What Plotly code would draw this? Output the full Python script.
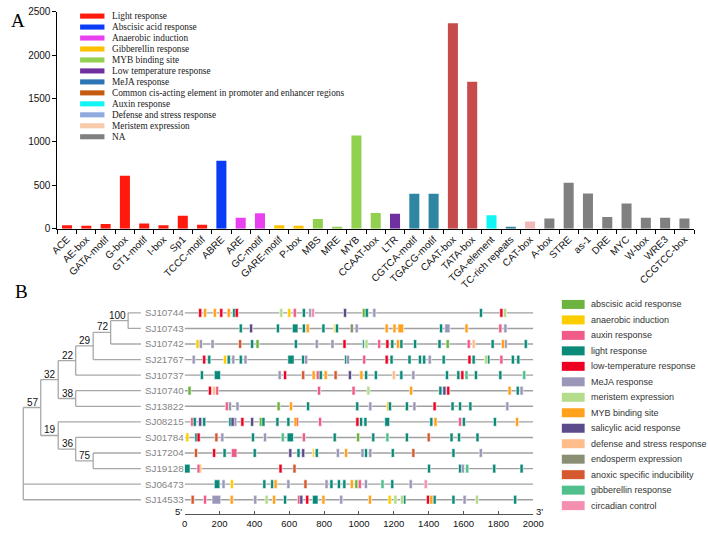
import plotly.graph_objects as go

W, H = 708, 535
def px(x): return x / W
def py(y): return 1 - y / H

# ---------------- Panel A data ----------------
motifs = ["ACE", "AE-box", "GATA-motif", "G-box", "GT1-motif", "I-box", "Sp1", "TCCC-motif",
          "ABRE", "ARE", "GC-motif", "GARE-motif", "P-box", "MBS", "MRE", "MYB", "CCAAT-box",
          "LTR", "CGTCA-motif", "TGACG-motif", "CAAT-box", "TATA-box", "TGA-element",
          "TC-rich repeats", "CAT-box", "A-box", "STRE", "as-1", "DRE", "MYC", "W-box", "WRE3",
          "CCGTCC-box"]
counts = [40, 32, 52, 610, 60, 38, 148, 46, 782, 124, 177, 38, 33, 110, 15, 1072, 180,
          170, 402, 402, 2366, 1693, 154, 22, 82, 116, 530, 406, 135, 289, 124, 124, 116]
motif_group = ["Light"] * 8 + ["ABA"] + ["ANA"] * 2 + ["GA"] * 2 + ["MYB"] * 4 + ["LTR"] + \
              ["MEJA"] * 2 + ["COM"] * 2 + ["AUX"] + ["DEF"] + ["MER"] + ["NA"] * 8
groupA_keys = ["Light", "ABA", "ANA", "GA", "MYB", "LTR", "MEJA", "COM", "AUX", "DEF", "MER", "NA"]
groupA_names = ["Light response", "Abscisic acid response", "Anaerobic induction",
                "Gibberellin response", "MYB binding site", "Low temperature response",
                "MeJA response", "Common cis-acting element in promoter and enhancer regions",
                "Auxin response", "Defense and stress response", "Meristem expression", "NA"]
groupA_bar_colors = {"Light": "#ff1a0d", "ABA": "#0a3cf5", "ANA": "#e940f0", "GA": "#ffc000",
                     "MYB": "#92d050", "LTR": "#7030a0", "MEJA": "#2e86a3", "COM": "#c84b4b",
                     "AUX": "#12f5f5", "DEF": "#2e86a3", "MER": "#f2b9b9", "NA": "#808080"}
groupA_legend_colors = ["#ff1a0d", "#0a3cf5", "#e940f0", "#ffc000", "#92d050", "#7030a0",
                        "#2e75b6", "#c55a11", "#12f5f5", "#8faadc", "#f8cbad", "#808080"]

# ---------------- Panel B data ----------------
seqs = ["SJ10744", "SJ10743", "SJ10742", "SJ21767", "SJ10737", "SJ10740", "SJ13822",
        "SJ08215", "SJ01784", "SJ17204", "SJ19128", "SJ06473", "SJ14533"]
# tree: (bootstrap, [children]); leaves are sequence names
tree = ("", [("57", [("32", [("22", [("29", [("72", [("100", ["SJ10744", "SJ10743"]), "SJ10742"]),
                                              "SJ21767"]), "SJ10737"]),
                             ("38", ["SJ10740", "SJ13822"])]),
                     ("19", ["SJ08215", ("36", ["SJ01784", ("75", ["SJ17204", "SJ19128"])])])]),
             "SJ06473", "SJ14533"])

b_keys = ["ABA", "ANA", "AUX", "LIG", "LOW", "MEJ", "MER", "MYB", "SAL", "DEF", "END", "ANO", "GA", "CIR"]
b_names = ["abscisic acid response", "anaerobic induction", "auxin response", "light response",
           "low-temperature response", "MeJA response", "meristem expression", "MYB binding site",
           "salicylic acid response", "defense and stress response", "endosperm expression",
           "anoxic specific inducibility", "gibberellin response", "circadian control"]
b_colors = ["#6db33f", "#ffcc00", "#f15b87", "#0a8a78", "#ee0022", "#9b97b8", "#b3dd8b",
            "#ffa11a", "#5b4b8a", "#ffbd8c", "#8a8f73", "#d6582e", "#4fbf8b", "#f58fb0"]

# elements: (centre position bp, category[, length bp])
elements = {
    "SJ10744": [(89, "LOW"), (117, "MYB"), (173, "MYB"), (210, "LOW"), (253, "MYB"), (284, "LIG"),
                (299, "LOW"), (554, "MER"), (600, "ANA"), (632, "AUX"), (684, "LIG"), (721, "MEJ"),
                (736, "CIR"), (920, "SAL"), (1028, "ABA"), (1045, "LIG"), (1088, "MEJ"),
                (1700, "LIG"), (1817, "LOW"), (1838, "MER")],
    "SJ10743": [(322, "LIG"), (381, "SAL"), (535, "LIG"), (634, "LIG", 32), (684, "LIG"),
                (706, "MYB"), (796, "LIG"), (858, "ANA", 8), (874, "LIG"), (959, "END"),
                (987, "MEJ"), (1159, "MYB"), (1204, "MYB"), (1240, "MYB", 32), (1471, "LIG"),
                (1507, "MEJ", 30), (1617, "MYB"), (1811, "AUX"), (1840, "MEJ")],
    "SJ10742": [(74, "ANA"), (93, "MEJ"), (160, "MEJ"), (318, "ANO"), (387, "LIG"), (418, "ABA"),
                (638, "LIG"), (758, "MEJ"), (848, "MEJ"), (917, "LOW"), (1025, "LIG", 10),
                (1043, "MER"), (1116, "AUX"), (1163, "LOW"), (1191, "LIG"), (1224, "MYB"),
                (1243, "LIG"), (1322, "LIG"), (1462, "LIG"), (1509, "ABA"), (1630, "AUX"),
                (1658, "DEF"), (1767, "LIG"), (1826, "MYB"), (1841, "MEJ"), (1957, "LIG")],
    "SJ21767": [(52, "MEJ"), (112, "LOW"), (141, "LIG"), (232, "ANA"), (253, "LIG"), (279, "MEJ"),
                (322, "LIG"), (349, "MEJ"), (610, "LIG", 36), (680, "LIG"), (697, "MEJ"),
                (926, "LIG"), (937, "MEJ"), (1030, "AUX"), (1159, "LOW"), (1187, "LIG"),
                (1290, "LIG"), (1350, "LIG"), (1374, "LIG"), (1406, "MEJ"), (1486, "LIG"),
                (1634, "LOW"), (1658, "LIG"), (1729, "MER"), (1742, "LIG"), (1817, "AUX"),
                (1883, "LIG"), (1914, "LIG")],
    "SJ10737": [(99, "LIG"), (188, "LIG", 36), (545, "MEJ"), (576, "LOW"), (680, "ANO"),
                (740, "MYB"), (764, "AUX"), (781, "LIG"), (809, "MYB"), (866, "ANO"),
                (948, "SAL"), (1014, "MYB"), (1041, "LIG"), (1097, "LIG"), (1200, "DEF"),
                (1243, "LIG"), (1312, "MEJ"), (1505, "LIG"), (1570, "LIG"), (1593, "LOW"),
                (1617, "GA"), (1671, "LIG"), (1811, "LIG"), (1948, "GA")],
    "SJ10740": [(28, "ABA"), (145, "LOW"), (169, "DEF"), (186, "AUX"), (771, "AUX"), (969, "AUX"),
                (1054, "MER"), (1299, "MYB"), (1467, "LIG"), (1490, "SAL"), (1512, "LOW"),
                (1864, "MYB"), (1911, "LIG"), (1933, "MEJ")],
    "SJ13822": [(242, "AUX"), (260, "MEJ"), (303, "MEJ"), (539, "ABA"), (610, "MYB"), (708, "LIG"),
                (990, "LIG"), (1065, "MEJ"), (1168, "ANA"), (1178, "LIG"), (1275, "LIG"),
                (1318, "MEJ"), (1434, "LOW"), (1537, "LIG"), (1580, "LIG"), (1639, "LIG"),
                (1851, "MEJ")],
    "SJ08215": [(43, "AUX"), (58, "LIG"), (89, "SAL"), (112, "LIG"), (262, "LIG"), (275, "SAL"),
                (290, "MEJ"), (331, "LOW"), (387, "SAL"), (437, "ABA"), (452, "LIG"), (532, "LIG"),
                (595, "LIG"), (636, "MYB"), (643, "LOW"), (777, "AUX"), (991, "LOW"), (1012, "LIG"),
                (1037, "LIG"), (1162, "LIG", 28), (1415, "LIG"), (1439, "MYB"), (1580, "AUX"),
                (1602, "LIG"), (1780, "LIG"), (1907, "MYB")],
    "SJ01784": [(15, "ANA"), (67, "LIG"), (80, "LOW"), (182, "ANO"), (216, "MEJ"), (392, "LIG"),
                (461, "MEJ"), (563, "GA"), (606, "LIG", 36), (684, "AUX"), (861, "LIG"),
                (995, "ABA"), (1082, "LIG"), (1163, "GA"), (1275, "LIG"), (1400, "ANO"),
                (1531, "LIG"), (1574, "LIG"), (1680, "LIG")],
    "SJ17204": [(65, "ANO"), (169, "LOW"), (229, "LIG"), (284, "AUX", 32), (402, "LIG"),
                (606, "SAL"), (653, "LIG"), (680, "SAL"), (738, "ANA", 10), (758, "LIG"),
                (879, "MEJ"), (926, "MYB"), (1020, "MEJ"), (1040, "LIG"), (1065, "MEJ"),
                (1194, "LIG"), (1312, "ANO"), (1542, "LIG"), (1699, "MEJ")],
    "SJ19128": [(15, "LIG", 32), (80, "AUX"), (93, "MYB", 8), (550, "LOW"), (630, "ANO"),
                (1402, "LIG"), (1580, "LIG"), (1596, "MEJ"), (1621, "GA"), (1776, "LIG"),
                (1933, "LIG")],
    "SJ06473": [(186, "LIG", 32), (223, "MEJ"), (271, "ANA"), (457, "LIG"), (502, "LIG"),
                (522, "MYB"), (595, "MEJ"), (693, "ANO"), (814, "MEJ"), (842, "LIG"), (885, "LIG"),
                (916, "LIG"), (959, "MYB"), (985, "ABA"), (1005, "AUX"), (1040, "MEJ"),
                (1135, "GA"), (1191, "LIG"), (1297, "MEJ"), (1383, "CIR")],
    "SJ14533": [(46, "ANO"), (117, "AUX"), (182, "MEJ", 50), (270, "MYB"), (405, "MEJ"),
                (470, "MER"), (513, "MYB"), (576, "LIG"), (656, "AUX"), (669, "SAL"), (703, "LOW"),
                (749, "LIG", 32), (796, "MYB"), (898, "MEJ"), (1063, "MYB"), (1176, "ANA"),
                (1209, "MER"), (1247, "MER"), (1260, "LIG"), (1396, "LOW"), (1415, "MYB"),
                (1434, "LIG"), (1542, "LIG"), (1606, "MEJ"), (1677, "MER"), (1896, "LIG")],
}
seq_len = 2000
default_len = 18
bp_ticks = list(range(0, 2001, 200))

fig = go.Figure()

# ---------------- Panel A: bars ----------------
fig.add_trace(go.Bar(x=motifs, y=counts, width=0.52,
                     marker=dict(color=[groupA_bar_colors[g] for g in motif_group],
                                 line=dict(width=0)),
                     xaxis="x", yaxis="y", showlegend=False))

# ---------------- Panel B: motif blocks ----------------
for key, col in zip(b_keys, b_colors):
    ys, xs, bases = [], [], []
    for r, s in enumerate(seqs):
        for m in elements[s]:
            if m[1] != key:
                continue
            L = m[2] if len(m) > 2 else default_len
            ys.append(r); xs.append(L); bases.append(m[0] - L / 2)
    if ys:
        fig.add_trace(go.Bar(orientation="h", y=ys, x=xs, base=bases, width=0.56,
                             marker=dict(color=col, line=dict(color="white", width=0.6)),
                             xaxis="x2", yaxis="y2", showlegend=False))

# ---------------- Panel B: tree ----------------
leaf_depth = 6.73
lines_x, lines_y, boot = [], [], []
def layout_node(node, depth):
    if isinstance(node, str):
        return seqs.index(node), True
    label, children = node
    cy = []
    for ch in children:
        y, is_leaf = layout_node(ch, depth + 1)
        cx = leaf_depth if is_leaf else depth + 1
        lines_x.extend([depth, cx, None]); lines_y.extend([y, y, None])
        cy.append(y)
    lines_x.extend([depth, depth, None]); lines_y.extend([min(cy), max(cy), None])
    ny = (min(cy) + max(cy)) / 2
    if label:
        boot.append((depth, ny, label))
    return ny, False

layout_node(tree, 0)
fig.add_trace(go.Scatter(x=lines_x, y=lines_y, mode="lines",
                         line=dict(color="#a8a8a8", width=1.3),
                         xaxis="x3", yaxis="y2", showlegend=False, hoverinfo="skip"))

annotations = []
for d, y, lab in boot:
    annotations.append(dict(x=d, y=y, xref="x3", yref="y2", text=lab, showarrow=False,
                            xanchor="right", yanchor="bottom", xshift=0, yshift=-2,
                            font=dict(family="Liberation Sans, Arial", size=10, color="#111")))

shapes = []
# sequence baselines
for r in range(len(seqs)):
    shapes.append(dict(type="line", xref="x2", yref="y2", x0=0, x1=seq_len, y0=r, y1=r,
                       line=dict(color="#a0a0a0", width=1.4), layer="below"))

# ---------------- legends (manual) ----------------
A_x0, A_x1, A_tx, A_y0, A_dy = 75, 100, 105.3, 10.3, 11.2
for i, (name, col) in enumerate(zip(groupA_names, groupA_legend_colors)):
    yc = A_y0 + i * A_dy
    shapes.append(dict(type="rect", xref="paper", yref="paper", x0=px(A_x0), x1=px(A_x1),
                       y0=py(yc + 2.6), y1=py(yc - 2.6), fillcolor=col, line=dict(width=0)))
    annotations.append(dict(x=px(A_tx), y=py(yc), xref="paper", yref="paper", text=name,
                            showarrow=False, xanchor="left", yanchor="middle",
                            font=dict(family="Liberation Serif, Times New Roman", size=9.3, color="#222")))

B_x0, B_x1, B_tx, B_y0, B_dy = 569.3, 592.7, 596.7, 304.7, 15.8
for i, (name, col) in enumerate(zip(b_names, b_colors)):
    yc = B_y0 + i * B_dy
    shapes.append(dict(type="rect", xref="paper", yref="paper", x0=px(B_x0), x1=px(B_x1),
                       y0=py(yc + 4.6), y1=py(yc - 4.6), fillcolor=col, line=dict(width=0)))
    annotations.append(dict(x=px(B_tx), y=py(yc), xref="paper", yref="paper", text=name,
                            showarrow=False, xanchor="left", yanchor="middle",
                            font=dict(family="Liberation Sans, Arial", size=9, color="#333")))

# panel letters and 5'/3'
annotations.append(dict(x=px(2), y=py(15), xref="paper", yref="paper", text="A", showarrow=False,
                        xanchor="left", yanchor="middle",
                        font=dict(family="Liberation Serif, Times New Roman", size=19, color="#000")))
annotations.append(dict(x=px(6), y=py(292), xref="paper", yref="paper", text="B", showarrow=False,
                        xanchor="left", yanchor="middle",
                        font=dict(family="Liberation Serif, Times New Roman", size=19, color="#000")))

yB_top, yB_bot = 300.0, 519.0
row0_y, row_dy = 313.3, 15.9
y2_lo = (yB_bot - row0_y) / row_dy
y2_hi = (yB_top - row0_y) / row_dy
annotations.append(dict(x=0, y=y2_lo, xref="x2", yref="y2", text="5'", showarrow=False,
                        xanchor="right", yanchor="middle", xshift=-1, yshift=3,
                        font=dict(family="Liberation Sans, Arial", size=9.5, color="#111")))
annotations.append(dict(x=seq_len, y=y2_lo, xref="x2", yref="y2", text="3'", showarrow=False,
                        xanchor="left", yanchor="middle", xshift=1, yshift=3,
                        font=dict(family="Liberation Sans, Arial", size=9.5, color="#111")))

# tree axis scaling: depth 0 at x=16.7px, 17.93 px per level
tree_px0, tree_step, trackx0, trackx1 = 16.7, 17.93, 182.3, 540.0

axfont = dict(family="Liberation Sans, Arial", size=10, color="#111")
fig.update_layout(
    width=W, height=H, margin=dict(l=0, r=0, t=0, b=0),
    paper_bgcolor="white", plot_bgcolor="white", barmode="overlay",
    xaxis=dict(domain=[px(51.7), px(705)], anchor="y", type="category", range=[-0.5, 32.5],
               tickangle=-45, ticks="outside", tickson="boundaries", ticklen=4,
               tickcolor="#000", showline=True, linecolor="#000", linewidth=1,
               showgrid=False, tickfont=axfont, fixedrange=True),
    yaxis=dict(domain=[py(227.3), py(5.8)], anchor="x", range=[0, 2500],
               tickvals=[0, 500, 1000, 1500, 2000, 2500], ticks="outside", ticklen=4,
               tickcolor="#000", showline=True, linecolor="#000", linewidth=1,
               showgrid=False, zeroline=False, tickfont=axfont),
    xaxis2=dict(domain=[px(trackx0), px(trackx1)], anchor="y2", range=[0, seq_len],
                tickvals=bp_ticks, ticks="inside", ticklen=3, tickcolor="#555",
                showline=True, linecolor="#555", linewidth=1, showgrid=False, zeroline=False,
                tickfont=dict(family="Liberation Sans, Arial", size=9.5, color="#111")),
    yaxis2=dict(domain=[py(yB_bot), py(yB_top)], anchor="x2", range=[y2_lo, y2_hi],
                tickvals=list(range(len(seqs))), ticktext=seqs, ticks="", showline=False,
                showgrid=False, zeroline=False,
                tickfont=dict(family="Liberation Sans, Arial", size=9.8, color="#858585")),
    xaxis3=dict(domain=[0, px(trackx0)], anchor="y2",
                range=[-tree_px0 / tree_step, (trackx0 - tree_px0) / tree_step],
                visible=False, showgrid=False, zeroline=False),
    shapes=shapes, annotations=annotations,
)

fig.write_html("out.html")
